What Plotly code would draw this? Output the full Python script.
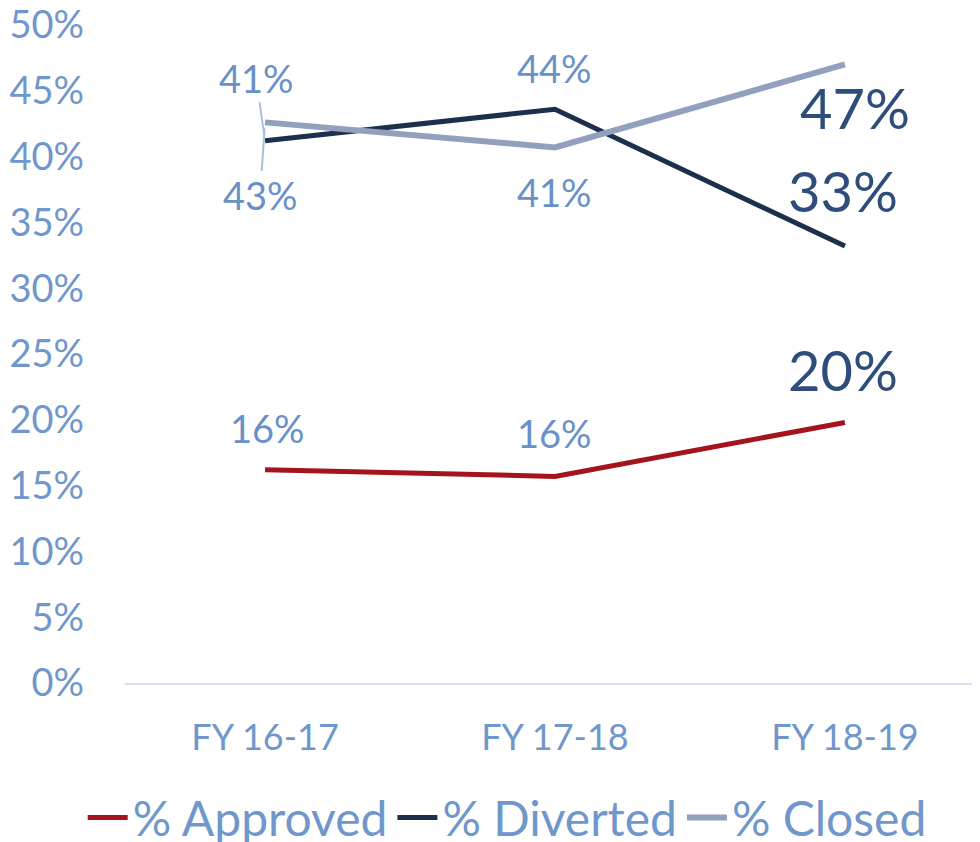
import plotly.graph_objects as go

categories = ["FY 16-17", "FY 17-18", "FY 18-19"]
approved = [16.2, 15.7, 19.8]
diverted = [41.2, 43.6, 33.2]
closed = [42.6, 40.7, 47.0]
label_approved = ["16%", "16%", "20%"]
label_diverted = ["41%", "44%", "33%"]
label_closed = ["43%", "41%", "47%"]
y_ticks = [0, 5, 10, 15, 20, 25, 30, 35, 40, 45, 50]

FONT = "Lato, Carlito, Calibri, sans-serif"
TICK_COLOR = "#7097cb"
LABEL_COLOR = "#6a90c8"
BIG_COLOR = "#2e4d7b"

fig = go.Figure()
fig.add_trace(go.Scatter(x=categories, y=approved, mode="lines", name="% Approved",
                         line=dict(color="#a5141d", width=5)))
fig.add_trace(go.Scatter(x=categories, y=diverted, mode="lines", name="% Diverted",
                         line=dict(color="#1c2f4d", width=5)))
fig.add_trace(go.Scatter(x=categories, y=closed, mode="lines", name="% Closed",
                         line=dict(color="#929fbd", width=6)))

def lab(x, y, text, dx, dy, big=False, arrow=False):
    d = dict(x=x, y=y, xref="x", yref="y", text=text,
             font=dict(family=FONT, size=56 if big else 38,
                       color=BIG_COLOR if big else LABEL_COLOR))
    if arrow:
        d.update(showarrow=True, ax=dx, ay=dy, arrowhead=0, arrowwidth=2,
                 arrowcolor="#aabfe0", standoff=6)
    else:
        d.update(showarrow=False, xshift=dx, yshift=-dy)
    fig.add_annotation(**d)

# FY 16-17
lab(categories[0], diverted[0], label_diverted[0], -9, -63, arrow=True)
lab(categories[0], closed[0], label_closed[0], -5, 73, arrow=True)
lab(categories[0], approved[0], label_approved[0], 2, -42)
# FY 17-18
lab(categories[1], diverted[1], label_diverted[1], 0, -41)
lab(categories[1], closed[1], label_closed[1], 0, 45)
lab(categories[1], approved[1], label_approved[1], 0, -43)
# FY 18-19
lab(categories[2], closed[2], label_closed[2], 10, 43, big=True)
lab(categories[2], diverted[2], label_diverted[2], -2, -56, big=True)
lab(categories[2], approved[2], label_approved[2], -2, -53, big=True)

fig.update_layout(
    width=972, height=834,
    margin=dict(l=117, r=0, t=17, b=159, autoexpand=False),
    paper_bgcolor="white", plot_bgcolor="white",
    font=dict(family=FONT, color=TICK_COLOR),
    showlegend=True,
    legend=dict(orientation="h", x=0.447, xanchor="center", y=-0.205, yanchor="middle",
                font=dict(family=FONT, size=48, color=TICK_COLOR),
                itemwidth=40, tracegroupgap=0),
    xaxis=dict(range=[-0.483, 2.466], showgrid=False, showline=True, automargin=False,
               linecolor="#d6e0ef", linewidth=1.5, ticks="",
               tickfont=dict(family=FONT, size=36, color=TICK_COLOR),
               ticklabelstandoff=22, ticklabeloverflow="allow"),
    yaxis=dict(range=[0, 50], tickvals=y_ticks, ticktext=[f"{v}%" for v in y_ticks],
               showgrid=False, zeroline=False, showline=False, ticks="", automargin=False,
               tickfont=dict(family=FONT, size=38, color=TICK_COLOR),
               ticklabelstandoff=40, ticklabeloverflow="allow"),
)

fig.write_html("out.html")
